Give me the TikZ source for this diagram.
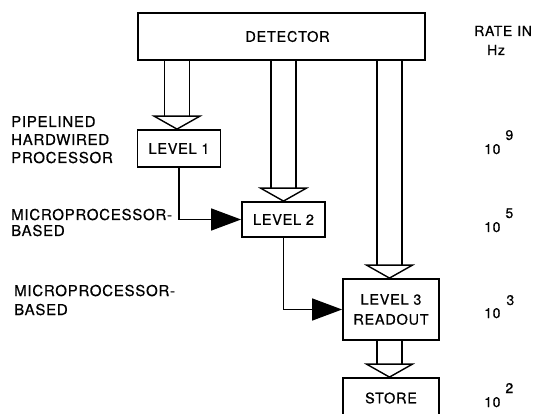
\documentclass[tikz,border=0pt]{standalone}
\usepackage{fontspec}
\setmainfont{TeX Gyre Heros}[LetterSpace=5,FakeBold=0.6]
\usetikzlibrary{arrows.meta,calc}
\newcommand{\hollowarr}[2]{%
  \draw[shaft] let \p1=(#1), \p2=(#2) in
    (\x2-12.5pt,\y1) -- (\x2-12.5pt,\y2+13pt)
    (\x2+12.5pt,\y1) -- (\x2+12.5pt,\y2+13pt);
  \draw[shaft,fill=white,line join=miter] let \p2=(#2) in
    (\x2-23pt,\y2+13pt) -- (\x2+23pt,\y2+13pt) -- (\x2,\y2) -- cycle;
}
\begin{document}
\begin{tikzpicture}[x=1pt,y=-1pt,
  box/.style={draw,line width=1.8pt,inner sep=0pt,align=center,fill=white,
              font=\fontsize{14.5}{20}\selectfont},
  shaft/.style={line width=1.4pt},
  lbl/.style={font=\fontsize{15}{17}\selectfont,inner sep=0pt,anchor=base west},
  rlbl/.style={font=\fontsize{14}{16}\selectfont,inner sep=0pt,anchor=base west},
  con/.style={line width=1.4pt,-{Triangle[length=30pt,width=22pt]}}]
\useasboundingbox (0,0) rectangle (533,414);
\clip (0,0) rectangle (533,414);

% boxes
\node[box,minimum width=287pt,minimum height=47pt] (det) at (281.5,36.5) {\hspace*{12pt}DETECTOR};
\node[box,minimum width=83pt,minimum height=37pt] (l1) at (179,148.5) {LEVEL 1};
\node[box,minimum width=83pt,minimum height=35pt] (l2) at (283.5,219.5) {LEVEL 2};
\node[box,minimum width=96pt,minimum height=61pt] (l3) at (391,309.5) {LEVEL 3\\READOUT};
\node[box,minimum width=96pt,minimum height=40pt] (store) at (391,398) {STORE};

% hollow data-flow arrows
\hollowarr{det.south}{[xshift=-2pt]l1.north}
\hollowarr{det.south}{l2.north}
\hollowarr{det.south}{[xshift=-1.5pt]l3.north}
\hollowarr{[xshift=-1.5pt]l3.south}{[xshift=-1.5pt]store.north}

% trigger connectors
\draw[con] (l1.south) |- (l2.west);
\draw[con] (l2.south) |- (l3.west);

% left labels
\node[lbl] (p1) at (11,127) {PIPELINED};
\node[lbl] (p2) at (11,145) {HARDWIRED};
\node[lbl] (p3) at (11,163) {PROCESSOR};
\node[lbl] (m1) at (11,220) {MICROPROCESSOR-};
\node[lbl] (m2) at (11,236) {BASED};
\node[lbl] (n1) at (14,296) {MICROPROCESSOR-};
\node[lbl] (n2) at (14,315) {BASED};

% right column
\node[rlbl] (rate) at (474,36) {RATE\hspace{5pt}IN};
\node[rlbl,anchor=base] (hz) at (496,55) {Hz};
\node[rlbl] (r9) at (484,154) {10\hspace{5pt}\raisebox{14pt}{9}};
\node[rlbl] (r5) at (484,232) {10\hspace{5pt}\raisebox{14pt}{5}};
\node[rlbl] (r3) at (484,318) {10\hspace{6pt}\raisebox{13pt}{3}};
\node[rlbl] (r2) at (484,407) {10\hspace{5pt}\raisebox{14pt}{2}};
\end{tikzpicture}
\end{document}
